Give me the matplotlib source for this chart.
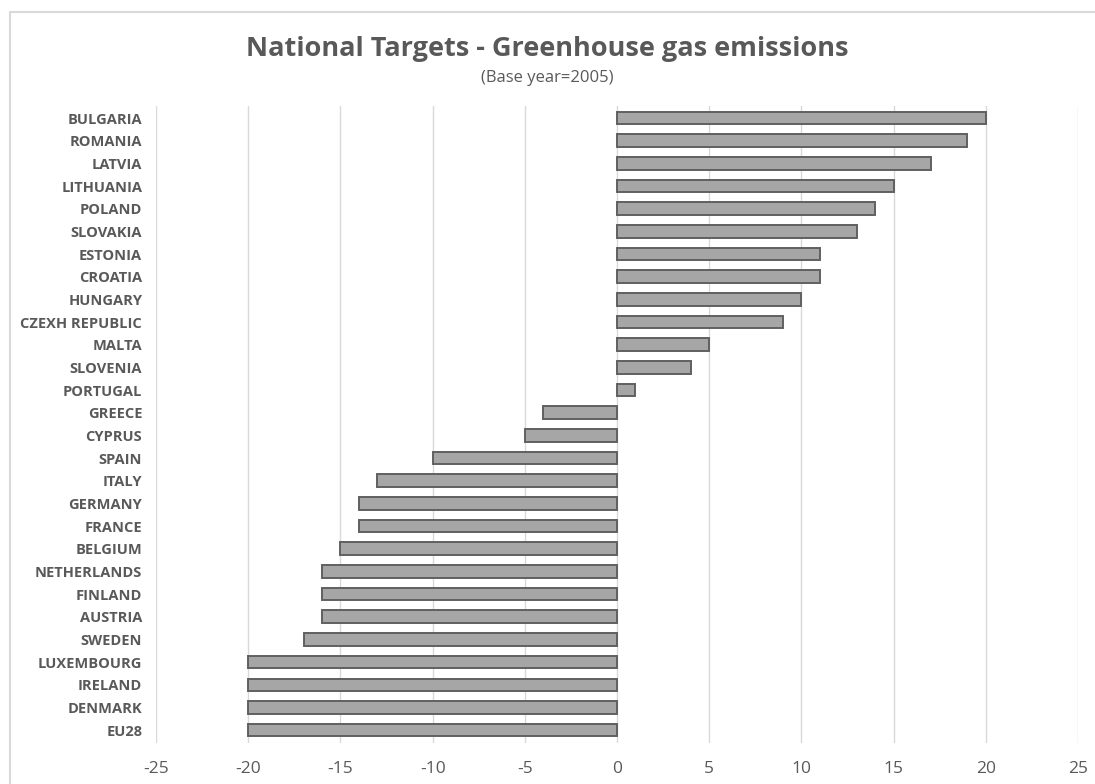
import matplotlib.pyplot as plt
from matplotlib.patches import Rectangle

countries = ["BULGARIA", "ROMANIA", "LATVIA", "LITHUANIA", "POLAND", "SLOVAKIA",
             "ESTONIA", "CROATIA", "HUNGARY", "CZEXH REPUBLIC", "MALTA", "SLOVENIA",
             "PORTUGAL", "GREECE", "CYPRUS", "SPAIN", "ITALY", "GERMANY", "FRANCE",
             "BELGIUM", "NETHERLANDS", "FINLAND", "AUSTRIA", "SWEDEN", "LUXEMBOURG",
             "IRELAND", "DENMARK", "EU28"]
targets = [20, 19, 17, 15, 14, 13, 11, 11, 10, 9, 5, 4, 1, -4, -5, -10, -13, -14, -14,
           -15, -16, -16, -16, -17, -20, -20, -20, -20]
xticks = [-25, -20, -15, -10, -5, 0, 5, 10, 15, 20, 25]

plt.rcParams['font.family'] = ['Open Sans', 'DejaVu Sans']
txt = "#595959"

fig = plt.figure(figsize=(10.95, 7.84), dpi=100)
ax = fig.add_axes([0.1425, 0.0523, 0.8420, 0.8125])

n = len(countries)
ypos = [n - 1 - i for i in range(n)]
ax.barh(ypos, targets, height=0.55, color="#a6a6a6", edgecolor="#606060",
        linewidth=1.4, zorder=3)

ax.set_xlim(-25, 25)
ax.set_ylim(-0.57, n - 1 + 0.53)
ax.set_xticks(xticks)
ax.set_xticklabels([str(t) for t in xticks], fontsize=12.5, color=txt)
ax.set_yticks(ypos)
ax.set_yticklabels(countries, fontsize=10.5, fontweight="bold", color=txt)
ax.tick_params(axis="both", length=0)
ax.tick_params(axis="x", pad=13)
ax.tick_params(axis="y", pad=10)
ax.grid(axis="x", color="#d9d9d9", linewidth=1, zorder=0)
for s in ax.spines.values():
    s.set_visible(False)

fig.text(0.5, 0.937, "National Targets - Greenhouse gas emissions", ha="center",
         va="center", fontsize=19.5, fontweight="bold", color=txt)
fig.text(0.5, 0.9, "(Base year=2005)", ha="center", va="center", fontsize=12,
         color=txt)

# chart border
fig.patches.append(Rectangle((10 / 1095, -0.1), 1.2, 1 - 12 / 784 + 0.1,
                             transform=fig.transFigure, fill=False,
                             edgecolor="#d9d9d9", linewidth=1.5))

fig.savefig("out.png", dpi=100)
